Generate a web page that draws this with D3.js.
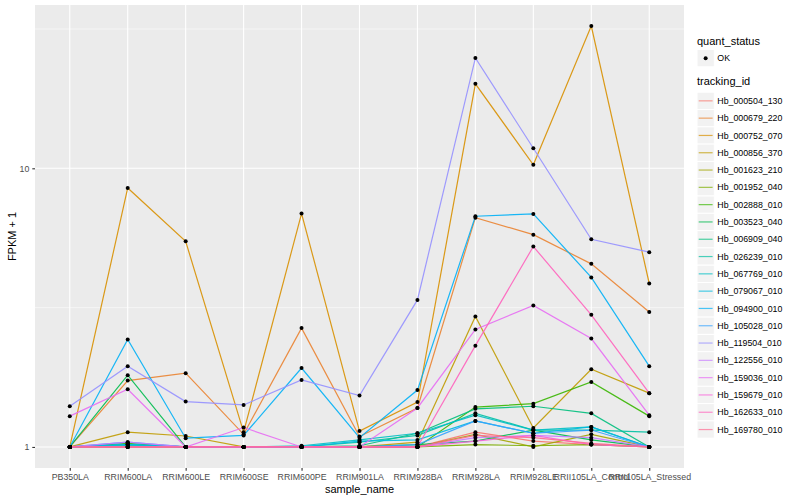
<!DOCTYPE html>
<html>
<head>
<meta charset="utf-8">
<script src="https://cdn.jsdelivr.net/npm/d3@7"></script>
<style>
  body { margin: 0; background: #fff; }
  text { font-family: "Liberation Sans", Arial, sans-serif; }
</style>
</head>
<body>
<svg width="800" height="500"></svg>
<script>
const svg = d3.select("svg"),
    width = +svg.attr("width"),
    height = +svg.attr("height");

// samples on the x axis
const samples = ["PB350LA", "RRIM600LA", "RRIM600LE", "RRIM600SE", "RRIM600PE", "RRIM901LA",
  "RRIM928BA", "RRIM928LA", "RRIM928LE", "RRII105LA_Control", "RRII105LA_Stressed"];

const trackingIds = ["Hb_000504_130", "Hb_000679_220", "Hb_000752_070", "Hb_000856_370",
  "Hb_001623_210", "Hb_001952_040", "Hb_002888_010", "Hb_003523_040", "Hb_006909_040",
  "Hb_026239_010", "Hb_067769_010", "Hb_079067_010", "Hb_094900_010", "Hb_105028_010",
  "Hb_119504_010", "Hb_122556_010", "Hb_159036_010", "Hb_159679_010", "Hb_162633_010",
  "Hb_169780_010"];

// FPKM + 1 per tracking id, one value per sample
const hb000504 = [1.00, 1.00, 1.00, 1.00, 1.00, 1.00, 1.00, 1.13, 1.05, 1.02, 1.00];
const hb000679 = [1.00, 1.73, 1.84, 1.11, 2.67, 1.09, 1.38, 6.65, 5.78, 4.54, 3.05];
const hb000752 = [1.00, 8.50, 5.47, 1.13, 6.88, 1.14, 1.45, 20.1, 10.3, 32.4, 3.86];
const hb000856 = [1.00, 1.13, 1.095, 1.00, 1.00, 1.00, 1.04, 2.94, 1.17, 1.90, 1.56];
const hb001623 = [1.00, 1.00, 1.00, 1.00, 1.00, 1.00, 1.00, 1.11, 1.00, 1.11, 1.00];
const hb001952 = [1.00, 1.00, 1.00, 1.00, 1.00, 1.00, 1.00, 1.02, 1.01, 1.02, 1.00];
const hb002888 = [1.00, 1.03, 1.00, 1.00, 1.00, 1.00, 1.00, 1.39, 1.43, 1.71, 1.29];
const hb003523 = [1.00, 1.81, 1.00, 1.00, 1.00, 1.00, 1.02, 1.05, 1.15, 1.06, 1.00];
const hb006909 = [1.00, 1.02, 1.00, 1.00, 1.00, 1.01, 1.12, 1.37, 1.40, 1.32, 1.00];
const hb026239 = [1.00, 1.01, 1.00, 1.00, 1.00, 1.04, 1.10, 1.32, 1.15, 1.15, 1.13];
const hb067769 = [1.00, 1.02, 1.00, 1.00, 1.01, 1.06, 1.12, 1.30, 1.15, 1.18, 1.00];
const hb079067 = [1.00, 1.02, 1.00, 1.00, 1.00, 1.05, 1.06, 1.24, 1.12, 1.18, 1.00];
const hb094900 = [1.00, 2.43, 1.075, 1.10, 1.92, 1.08, 1.60, 6.73, 6.86, 4.06, 1.95];
const hb105028 = [1.00, 1.04, 1.00, 1.00, 1.00, 1.00, 1.02, 1.24, 1.12, 1.15, 1.00];
const hb119504 = [1.40, 1.95, 1.455, 1.415, 1.74, 1.53, 3.37, 24.9, 11.8, 5.56, 5.00];
const hb122556 = [1.00, 1.04, 1.00, 1.00, 1.00, 1.00, 1.00, 1.08, 1.10, 1.08, 1.00];
const hb159036 = [1.29, 1.61, 1.00, 1.174, 1.00, 1.00, 1.38, 2.64, 3.22, 2.45, 1.30];
const hb159679 = [1.00, 1.00, 1.00, 1.00, 1.00, 1.00, 1.00, 1.05, 1.10, 1.02, 1.00];
const hb162633 = [1.00, 1.00, 1.00, 1.00, 1.00, 1.00, 1.00, 2.31, 5.24, 2.98, 1.56];
const hb169780 = [1.00, 1.00, 1.00, 1.00, 1.00, 1.00, 1.00, 1.10, 1.08, 1.03, 1.00];

const seriesValues = [hb000504, hb000679, hb000752, hb000856, hb001623, hb001952, hb002888,
  hb003523, hb006909, hb026239, hb067769, hb079067, hb094900, hb105028, hb119504, hb122556,
  hb159036, hb159679, hb162633, hb169780];

const yTicks = [1, 10];
const yMinor = [Math.sqrt(10), Math.sqrt(1000)];

// ggplot hue palette for 20 levels
const colors = ["#F8766D", "#EA8331", "#D89000", "#C09B00", "#A3A500", "#7CAE00", "#39B600",
  "#00BB4E", "#00BF7D", "#00C1A3", "#00BFC4", "#00BAE0", "#00B0F6", "#35A2FF", "#9590FF",
  "#C77CFF", "#E76BF3", "#FA62DB", "#FF62BC", "#FF6C91"];

const series = trackingIds.map((id, i) => ({
  id: id,
  color: colors[i],
  values: samples.map((s, j) => ({sample: s, v: seriesValues[i][j]}))
}));

// panel
const panel = {left: 35, top: 5, right: 684, bottom: 468};

const x = d3.scalePoint()
    .domain(samples)
    .range([panel.left, panel.right])
    .padding(0.6);

const allVals = seriesValues.flat();
const lmin = Math.log10(d3.min(allVals)), lmax = Math.log10(d3.max(allVals));
const pad = (lmax - lmin) * 0.05;
const y = d3.scaleLog()
    .domain([Math.pow(10, lmin - pad), Math.pow(10, lmax + pad)])
    .range([panel.bottom, panel.top]);

svg.append("rect")
    .attr("x", panel.left).attr("y", panel.top)
    .attr("width", panel.right - panel.left).attr("height", panel.bottom - panel.top)
    .attr("fill", "#EBEBEB");

// grid
svg.append("g").selectAll("line")
  .data(yMinor)
  .join("line")
    .attr("x1", panel.left).attr("x2", panel.right)
    .attr("y1", d => y(d)).attr("y2", d => y(d))
    .attr("stroke", "#fff").attr("stroke-width", 0.55);

svg.append("g").selectAll("line")
  .data(yTicks)
  .join("line")
    .attr("x1", panel.left).attr("x2", panel.right)
    .attr("y1", d => y(d)).attr("y2", d => y(d))
    .attr("stroke", "#fff").attr("stroke-width", 1.1);

svg.append("g").selectAll("line")
  .data(samples)
  .join("line")
    .attr("x1", d => x(d)).attr("x2", d => x(d))
    .attr("y1", panel.top).attr("y2", panel.bottom)
    .attr("stroke", "#fff").attr("stroke-width", 1.1);

// lines
const line = d3.line()
    .x(d => x(d.sample))
    .y(d => y(d.v));

svg.append("g").selectAll("path")
  .data(series)
  .join("path")
    .attr("d", d => line(d.values))
    .attr("fill", "none")
    .attr("stroke", d => d.color)
    .attr("stroke-width", 1.2)
    .attr("stroke-opacity", 0.9);

// points
svg.append("g").selectAll("g")
  .data(series)
  .join("g")
  .selectAll("circle")
  .data(d => d.values)
  .join("circle")
    .attr("cx", d => x(d.sample))
    .attr("cy", d => y(d.v))
    .attr("r", 2)
    .attr("fill", "#000");

// axes
const xAxis = svg.append("g")
    .attr("transform", `translate(0,${panel.bottom})`)
    .call(d3.axisBottom(x).tickSize(2.7).tickPadding(3));
const yAxis = svg.append("g")
    .attr("transform", `translate(${panel.left},0)`)
    .call(d3.axisLeft(y).tickValues(yTicks).tickFormat(d3.format("d")).tickSize(2.7).tickPadding(3));
[xAxis, yAxis].forEach(a => {
  a.select(".domain").remove();
  a.selectAll(".tick line").attr("stroke", "#333").attr("stroke-width", 1.1);
  a.selectAll(".tick text").attr("fill", "#4D4D4D").style("font-size", "8.8px")
    .style("font-family", "'Liberation Sans', Arial, sans-serif");
});

svg.append("text")
    .attr("x", (panel.left + panel.right) / 2).attr("y", 493)
    .attr("text-anchor", "middle")
    .style("font-size", "11px")
    .text("sample_name");

svg.append("text")
    .attr("transform", `translate(16,${(panel.top + panel.bottom) / 2}) rotate(-90)`)
    .attr("text-anchor", "middle")
    .style("font-size", "11px")
    .text("FPKM + 1");

// legends
const lg = svg.append("g").attr("transform", "translate(697,0)");
const keySize = 17.3;

lg.append("text").attr("x", 0).attr("y", 45).style("font-size", "11px").text("quant_status");
lg.append("rect").attr("x", 0).attr("y", 49.5).attr("width", keySize).attr("height", keySize)
    .attr("fill", "#F2F2F2").attr("stroke", "#fff");
lg.append("circle").attr("cx", keySize / 2).attr("cy", 49.5 + keySize / 2).attr("r", 2).attr("fill", "#000");
lg.append("text").attr("x", keySize + 3).attr("y", 49.5 + keySize / 2).attr("dy", "0.35em")
    .style("font-size", "8.8px").text("OK");

lg.append("text").attr("x", 0).attr("y", 85).style("font-size", "11px").text("tracking_id");
const keys = lg.append("g").attr("transform", "translate(0,92.2)")
  .selectAll("g")
  .data(series)
  .join("g")
    .attr("transform", (d, i) => `translate(0,${i * keySize})`);
keys.append("rect").attr("width", keySize).attr("height", keySize)
    .attr("fill", "#F2F2F2").attr("stroke", "#fff");
keys.append("line").attr("x1", 1.7).attr("x2", keySize - 1.7)
    .attr("y1", keySize / 2).attr("y2", keySize / 2)
    .attr("stroke", d => d.color).attr("stroke-width", 1.2).attr("stroke-opacity", 0.7);
keys.append("text").attr("x", keySize + 3).attr("y", keySize / 2).attr("dy", "0.35em")
    .style("font-size", "8.8px").text(d => d.id);
</script>
</body>
</html>
